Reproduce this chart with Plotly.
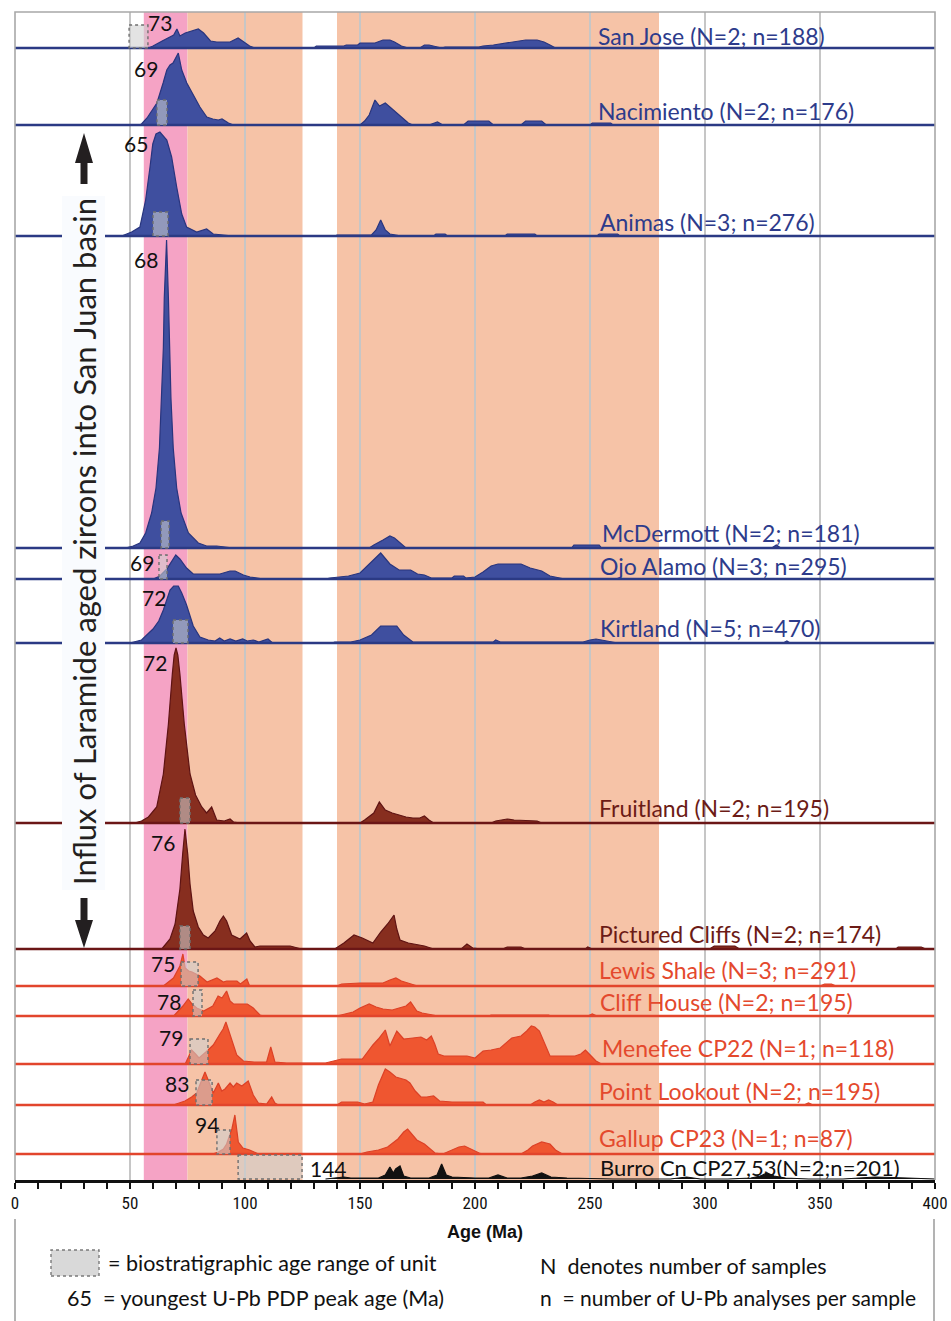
import plotly.graph_objects as go

# ---------------------------------------------------------------- data
UNIT_NAMES = ["San Jose", "Nacimiento", "Animas", "McDermott", "Ojo Alamo", "Kirtland",
              "Fruitland", "Pictured Cliffs", "Lewis Shale", "Cliff House",
              "Menefee CP22", "Point Lookout", "Gallup CP23", "Burro Cn CP27,53"]
UNIT_LABELS = ["San Jose (N=2; n=188)", "Nacimiento (N=2; n=176)", "Animas (N=3; n=276)",
               "McDermott (N=2; n=181)", "Ojo Alamo (N=3; n=295)", "Kirtland (N=5; n=470)",
               "Fruitland (N=2; n=195)", "Pictured Cliffs (N=2; n=174)",
               "Lewis Shale (N=3; n=291)", "Cliff House (N=2; n=195)",
               "Menefee CP22 (N=1; n=118)", "Point Lookout (N=2; n=195)",
               "Gallup CP23 (N=1; n=87)", "Burro Cn CP27,53(N=2;n=201)"]

# PDP curves: age (Ma) and relative probability
SAN_JOSE_AGE = [58, 60, 64, 69, 70.4, 71.7, 74, 77.5, 79.7, 82, 85, 87.7, 93.5, 97, 99, 102, 104.3,
                130, 131, 143, 144, 149, 150, 156.5, 160, 163, 165, 168, 171, 176, 178, 180, 185.5,
                187, 201.7, 203.5, 208, 214, 222, 227, 230, 232.6, 235]
SAN_JOSE_PDP = [0, 2, 7, 13, 19, 12, 15, 17, 19, 15, 7, 6, 6, 10, 7, 2, 0,
                0, 2, 2, 3, 3, 5, 5, 8, 8, 6, 2, 0, 0, 3, 3, 0,
                1, 1, 2, 3, 5, 8, 8, 6, 3, 0]

NACIMIENTO_AGE = [54, 55, 57.4, 61.7, 64.4, 66, 67.4, 68.7, 71, 72.5, 74.7, 77.5, 80.4, 83.4, 86, 88.4,
                  90, 92.8, 95, 150, 152, 154, 156.5, 158.5, 161, 164, 168, 171, 173, 180, 183.7, 186,
                  195, 197, 206, 208, 220, 222, 229, 231, 250, 251, 259, 260]
NACIMIENTO_PDP = [0, 1, 7, 22, 42, 55, 60, 62, 72, 55, 42, 30, 18, 8, 6, 5,
                  6, 2, 0, 0, 4, 10, 25, 19, 22, 16, 8, 2, 0, 0, 3, 0,
                  0, 4, 4, 0, 0, 4, 4, 0, 0, 2, 2, 0]

ANIMAS_AGE = [46.4, 50.7, 54.3, 56.8, 58.7, 59.9, 61.3, 63, 66, 68.1, 70.3, 72.5, 74.6, 79, 83.3, 86.2,
              94.9, 139, 140, 155, 157, 159, 161, 163, 168, 182, 183, 187, 188, 213, 214, 226, 227,
              253, 254, 262, 263]
ANIMAS_PDP = [0, 4, 9, 36, 69, 92, 102, 104, 96, 79, 49, 22, 9, 4, 7, 2,
              0, 0, 1, 1, 6, 16, 6, 2, 0, 0, 2, 2, 0, 0, 2, 2, 0,
              0, 2, 2, 0]

MCDERMOTT_AGE = [48, 51.4, 54.3, 56.8, 59.4, 61.3, 62.8, 63.8, 64.5, 64.9, 65.9, 66.7, 67.1, 67.8,
                 68.8, 70.3, 72.2, 75.4, 79.7, 83.3, 87.7, 94.9, 154, 156, 160, 163, 165, 168, 170,
                 242, 243, 254, 255, 329, 331, 333]
MCDERMOTT_PDP = [0, 2, 5, 15, 35, 60, 100, 150, 200, 250, 308, 250, 200, 150,
                 100, 60, 35, 15, 5, 2, 2, 0, 0, 3, 8, 12, 10, 4, 0,
                 0, 3, 3, 0, 0, 3, 0]

OJO_ALAMO_AGE = [60.1, 63, 66, 68.1, 69.9, 71.7, 74.6, 77.5, 89.1, 93.5, 95.7, 99.3, 102.2, 108,
                 135, 137, 145, 150, 159, 163, 167, 172, 175, 178, 181, 190, 191, 195, 196, 200,
                 203.5, 207, 210, 220, 224, 229, 232.6, 239]
OJO_ALAMO_PDP = [0, 3, 10, 18, 24, 20, 11, 5, 5, 8, 8, 4, 2, 0,
                 0, 1, 3, 6, 26, 15, 9, 9, 5, 4, 1, 1, 3, 3, 1, 2,
                 7, 13, 15, 15, 11, 8, 3, 0]

KIRTLAND_AGE = [50, 55, 60, 62.5, 64.5, 67.4, 69, 71, 72.5, 74.6, 77.5, 80.4, 84, 87, 89, 91, 93.5,
                96, 99, 101, 103.6, 106, 110, 112, 138, 139, 146, 150, 155, 159, 166, 169, 173, 178,
                208, 209, 211, 226, 247, 250, 252.6, 255, 260, 262, 334, 335.6, 337]
KIRTLAND_PDP = [0, 3, 14, 22, 33, 53, 57, 57, 50, 38, 17, 6, 3, 2, 5, 2, 4,
                2, 4, 2, 3, 1, 4, 0, 0, 1, 1, 3, 8, 17, 17, 8, 1, 1,
                1, 3, 1, 1, 1, 3, 4, 3, 1, 0, 0, 2, 0]

FRUITLAND_AGE = [52, 55, 58, 61.6, 64.5, 66.7, 68.4, 69.2, 70, 70.8, 71.7, 73.6, 76.1, 78.5, 81.2,
                 83.3, 85.5, 87.7, 91, 93.5, 95, 98, 150, 152, 156, 158.4, 161, 164, 167, 170, 173,
                 176, 178, 180, 182, 207, 209, 212, 214, 217, 227, 229]
FRUITLAND_PDP = [0, 2, 6, 16, 49, 99, 149, 168, 175, 168, 149, 99, 49, 28, 16,
                 10, 16, 3, 2, 4, 1, 0, 0, 3, 10, 21, 13, 10, 8, 6, 5,
                 5, 7, 3, 0, 0, 2, 3, 4, 3, 2, 0]

PICTURED_CLIFFS_AGE = [63.8, 67.4, 69.6, 71.7, 72.9, 73.9, 75.1, 76.1, 77.5, 79.7, 81.9, 84, 87, 89.1,
                       90.6, 92, 94.2, 97.8, 100.7, 102.2, 104.3, 106.5, 119.6, 124.6, 139, 143,
                       147.4, 151, 155.6, 159, 162, 164.8, 166, 167.4, 171, 175, 178, 182, 194,
                       196.5, 199, 203, 212, 214, 220, 222, 248, 249, 251, 302, 304, 313, 315, 383,
                       384, 394, 396]
PICTURED_CLIFFS_PDP = [0, 10, 25, 60, 95, 120, 95, 65, 38, 22, 14, 11, 18, 28,
                       33, 28, 14, 10, 16, 8, 2, 3, 3, 0, 0, 6,
                       14, 11, 6, 17, 25, 34, 20, 9, 6, 4, 3, 0, 0,
                       5, 1, 0, 0, 2, 2, 0, 0, 2, 0, 0, 3, 3, 0, 0,
                       2, 2, 0]

LEWIS_SHALE_AGE = [64.5, 68.9, 71.7, 73, 74, 75.5, 77, 80.4, 83.5, 86, 87.8, 90.6, 92, 96.5, 98, 100.8,
                   102, 140, 142, 150, 160, 163, 165.6, 168, 173, 175, 350, 352, 355, 357]
LEWIS_SHALE_PDP = [0, 8, 20, 32, 18, 15, 14, 10, 4, 6, 8, 4, 5, 5, 2, 7,
                   0, 0, 2, 3, 3, 6, 8, 5, 1, 0, 0, 2, 2, 0]

CLIFF_HOUSE_AGE = [69, 71.5, 73, 75.3, 77, 79, 82, 86, 88.3, 90, 92, 93.5, 95, 101, 103.6, 106.5, 108,
                   140, 143, 147, 150, 154, 157, 160, 164, 167.4, 170, 172, 174.7, 177, 182, 184,
                   206, 207, 232, 233, 249, 251, 253]
CLIFF_HOUSE_PDP = [0, 6, 10, 17, 12, 8, 5, 10, 20, 18, 25, 15, 12, 12, 8, 1, 0,
                   0, 2, 4, 8, 12, 9, 7, 6, 8, 10, 14, 5, 3, 1, 0,
                   0, 1, 1, 0, 0, 2, 0]

MENEFEE_AGE = [74, 75.5, 76.8, 78.5, 80, 83, 86.2, 89.1, 90.5, 91.7, 93, 94.2, 96.4, 99.3, 104, 109.4,
               111.2, 113, 118.1, 124, 135, 142, 151, 155.6, 158, 161, 163, 166, 169, 173, 176.5, 179,
               181, 182.5, 184, 186.5, 196.5, 200, 203.5, 207, 211, 216, 220, 222.5, 224.5, 226, 228,
               232.6, 236, 243.5, 246, 248, 250.5, 252.6, 255]
MENEFEE_PDP = [0, 8, 14, 10, 6, 12, 19, 30, 35, 42, 33, 24, 9, 3, 2, 2,
               17, 2, 1, 1, 1, 5, 5, 19, 25, 34, 18, 33, 25, 26, 27, 24,
               28, 20, 10, 8, 8, 6, 13, 14, 16, 26, 28, 33, 38, 37, 33,
               8, 8, 8, 10, 14, 8, 3, 0]

POINT_LOOKOUT_AGE = [68.8, 73.9, 76.8, 79, 81.2, 82.6, 84, 86.2, 88.4, 89.9, 91.3, 93.5, 94.9, 96.4,
                     98.6, 101.4, 103.6, 105.8, 109.4, 111.6, 113, 114.5, 140, 142, 149, 152, 155.6,
                     158, 161, 163, 165.6, 168, 170, 171.7, 174, 176.5, 179, 182, 184.6, 190, 203.5,
                     205, 224, 226, 228, 230, 232, 234, 236, 343, 345, 347]
POINT_LOOKOUT_PDP = [0, 4, 8, 12, 25, 33, 25, 12, 22, 14, 16, 22, 18, 22,
                     19, 24, 10, 2, 1, 8, 2, 0, 0, 3, 3, 1, 3,
                     20, 36, 33, 28, 26, 25, 22, 14, 8, 8, 9, 4, 3, 3,
                     0, 0, 3, 5, 3, 5, 3, 0, 0, 2, 0]

GALLUP_AGE = [86, 88.4, 90.6, 92, 94.3, 95.6, 97.1, 99.1, 102, 105.8, 150, 153, 158, 162, 166.5, 169,
              170.7, 172.5, 174.7, 178, 180, 182.6, 186, 189, 193, 195.5, 198, 201.8, 203, 220, 223,
              225, 229, 232.6, 235, 238]
GALLUP_PDP = [0, 2, 5, 10, 25, 39, 12, 6, 4, 0, 0, 2, 4, 7, 15, 22,
              25, 20, 14, 10, 6, 1, 0, 3, 7, 8, 5, 1, 0, 0, 4,
              8, 12, 10, 4, 0]

BURRO_AGE = [135, 140, 143, 146, 150, 158, 161, 163, 164.5, 165.5, 167.4, 169, 172, 180, 183.5, 185.5,
             187.5, 190, 200, 206, 210, 214, 220, 225, 229, 233, 240, 260, 285, 292, 298, 310, 320,
             324, 327, 330, 335, 345, 360, 374, 388, 400]
BURRO_PDP = [0, 1, 2, 1, 1, 1, 4, 12, 6, 10, 13, 3, 1, 1, 4, 15,
             4, 2, 1, 1, 4, 1, 1, 3, 6, 2, 1, 0, 0, 2, 0, 0, 1,
             3, 6, 3, 1, 0, 0, 2, 1, 0]

UNIT_AGES = [SAN_JOSE_AGE, NACIMIENTO_AGE, ANIMAS_AGE, MCDERMOTT_AGE, OJO_ALAMO_AGE, KIRTLAND_AGE,
             FRUITLAND_AGE, PICTURED_CLIFFS_AGE, LEWIS_SHALE_AGE, CLIFF_HOUSE_AGE, MENEFEE_AGE,
             POINT_LOOKOUT_AGE, GALLUP_AGE, BURRO_AGE]
UNIT_PDPS = [SAN_JOSE_PDP, NACIMIENTO_PDP, ANIMAS_PDP, MCDERMOTT_PDP, OJO_ALAMO_PDP, KIRTLAND_PDP,
             FRUITLAND_PDP, PICTURED_CLIFFS_PDP, LEWIS_SHALE_PDP, CLIFF_HOUSE_PDP, MENEFEE_PDP,
             POINT_LOOKOUT_PDP, GALLUP_PDP, BURRO_PDP]

# biostratigraphic age range of each unit (Ma)
BIOSTRAT_MIN = [49.6, 61.7, 60.0, 63.5, 62.6, 68.7, 71.7, 71.7, 72.2, 77.4, 76.1, 78.7, 87.8, 97.0]
BIOSTRAT_MAX = [57.8, 66.1, 66.5, 67.0, 66.1, 75.2, 76.1, 76.1, 79.6, 81.3, 83.9, 85.7, 93.5, 124.8]
# youngest U-Pb PDP peak age (Ma)
YOUNGEST_PEAK = [73, 69, 65, 68, 69, 72, 72, 76, 75, 78, 79, 83, 94, 144]

# shaded age windows (Ma)
LARAMIDE_BAND = (56, 75)
SALMON_BANDS = [(75, 125), (140, 280)]

X_TICKS = [0, 50, 100, 150, 200, 250, 300, 350, 400]

# ---------------------------------------------------------------- layout config (pixels)
W, H = 951, 1321
PL, PR, PT, PB = 15, 935, 12, 1180

BASELINE_PX = [48, 125, 236, 548, 579, 643, 823, 949, 986, 1016, 1064, 1105, 1154, 1179]
LABEL_PX = [(596, 36), (596, 111), (598, 222), (600, 533), (598, 566), (598, 628), (597, 808),
            (597, 934), (597, 970), (598, 1002), (600, 1048), (597, 1091), (597, 1138), (598, 1167)]
PEAK_LABEL_PX = [(160, 22), (146, 68), (136, 143), (146, 259), (142, 562), (154, 597), (155, 662),
                 (163, 842), (163, 963), (169, 1001), (171, 1037), (177, 1083), (207, 1124), (328, 1168)]
LABEL_SIZE = [23] * 13 + [22]
BOX_H = [23, 25, 24, 27, 24, 23, 25, 23, 24, 26, 25, 25, 24, 24]
GROUP = ["blue"] * 6 + ["maroon"] * 2 + ["orange"] * 5 + ["black"]

STYLE = {
    "blue":   dict(fill="#3f4f9f", line="#28357e", base="#2b3a84", text="#2d3b8b"),
    "maroon": dict(fill="#872e1f", line="#5e1313", base="#6b1616", text="#6c1b16"),
    "orange": dict(fill="#ef5630", line="#dc4127", base="#e2452c", text="#e4492d"),
    "black":  dict(fill="#111111", line="#111111", base="#111111", text="#111111"),
}

LABEL_FONT = "Lato, 'Open Sans', sans-serif"
NARROW_FONT = "'Liberation Sans Narrow', 'Arial Narrow', 'Roboto Condensed', Roboto, sans-serif"


def px_x(px):
    return (px - PL) / (PR - PL)


def px_y(py):
    return (PB - py) / (PB - PT)


fig = go.Figure()

for i in range(len(UNIT_NAMES)):
    ages, pdp = UNIT_AGES[i], UNIT_PDPS[i]
    assert len(ages) == len(pdp), UNIT_NAMES[i]
    base = BASELINE_PX[i]
    st = STYLE[GROUP[i]]
    fig.add_trace(go.Scatter(
        x=ages, y=[base - v for v in pdp], mode="lines", fill="toself",
        fillcolor=st["fill"], line=dict(color=st["line"], width=1.2),
        hoverinfo="skip", showlegend=False, name=UNIT_NAMES[i]))
    if GROUP[i] != "black":
        fig.add_trace(go.Scatter(
            x=[0, 400], y=[base, base], mode="lines",
            line=dict(color=st["base"], width=2.4), hoverinfo="skip", showlegend=False))

shapes = []
# shaded windows
shapes.append(dict(type="rect", xref="x", yref="y", x0=LARAMIDE_BAND[0], x1=LARAMIDE_BAND[1],
                   y0=PT, y1=PB, fillcolor="#f5a3c5", line=dict(width=0), layer="below"))
for a, b in SALMON_BANDS:
    shapes.append(dict(type="rect", xref="x", yref="y", x0=a, x1=b, y0=PT, y1=PB,
                       fillcolor="#f6c3a7", line=dict(width=0), layer="below"))
# plot frame (top / left / right)
shapes.append(dict(type="path", xref="paper", yref="paper",
                   path="M 0 0 L 0 1 L 1 1 L 1 0", line=dict(color="#a8a8a8", width=1.6),
                   layer="above"))
# biostratigraphic boxes
for i in range(len(UNIT_NAMES)):
    base = BASELINE_PX[i]
    shapes.append(dict(type="rect", xref="x", yref="y", x0=BIOSTRAT_MIN[i], x1=BIOSTRAT_MAX[i],
                       y0=base - BOX_H[i], y1=base, fillcolor="rgba(206,206,206,0.58)",
                       line=dict(color="#6f6f6f", width=1.4, dash="dot"), layer="above"))
# white box behind the rotated caption
shapes.append(dict(type="rect", xref="paper", yref="paper", x0=px_x(62), x1=px_x(105),
                   y0=px_y(890), y1=px_y(196), fillcolor="#f9fbfe", line=dict(width=0),
                   layer="above"))


def arrow_path(tip_y, head_base_y, shaft_end_y):
    cx = 84
    pts = [(cx, tip_y), (cx - 9, head_base_y), (cx - 3.5, head_base_y), (cx - 3.5, shaft_end_y),
           (cx + 3.5, shaft_end_y), (cx + 3.5, head_base_y), (cx + 9, head_base_y)]
    return "M " + " L ".join(f"{px_x(x):.5f} {px_y(y):.5f}" for x, y in pts) + " Z"


shapes.append(dict(type="path", xref="paper", yref="paper", path=arrow_path(133, 163, 184),
                   fillcolor="#231f20", line=dict(width=0), layer="above"))
shapes.append(dict(type="path", xref="paper", yref="paper", path=arrow_path(948, 920, 898),
                   fillcolor="#231f20", line=dict(width=0), layer="above"))
# legend frame lines
for xpx in (15, 934):
    shapes.append(dict(type="line", xref="paper", yref="paper", x0=px_x(xpx), x1=px_x(xpx),
                       y0=px_y(1219), y1=px_y(1321), line=dict(color="#9a9a9a", width=1.5)))
# legend box symbol
shapes.append(dict(type="rect", xref="paper", yref="paper", x0=px_x(51), x1=px_x(99),
                   y0=px_y(1276), y1=px_y(1250), fillcolor="#d9d9d9",
                   line=dict(color="#7a7a7a", width=1.4, dash="dot")))

ann = []
for i in range(len(UNIT_NAMES)):
    st = STYLE[GROUP[i]]
    lx, ly = LABEL_PX[i]
    ann.append(dict(text=UNIT_LABELS[i], xref="paper", yref="y", x=px_x(lx), y=ly,
                    xanchor="left", yanchor="middle", showarrow=False,
                    font=dict(family=LABEL_FONT, size=LABEL_SIZE[i], color=st["text"])))
    px_, py_ = PEAK_LABEL_PX[i]
    ann.append(dict(text=str(YOUNGEST_PEAK[i]), xref="paper", yref="y", x=px_x(px_), y=py_,
                    xanchor="center", yanchor="middle", showarrow=False,
                    font=dict(family=LABEL_FONT, size=21, color="#111111")))

ann.append(dict(text="Influx of Laramide aged zircons into San Juan basin", xref="paper",
                yref="paper", x=px_x(84), y=px_y(542), textangle=-90, showarrow=False,
                xanchor="center", yanchor="middle",
                font=dict(family=LABEL_FONT, size=31, color="#231f20")))
ann.append(dict(text="<b>Age (Ma)</b>", xref="paper", yref="paper", x=px_x(485), y=px_y(1232),
                showarrow=False, xanchor="center", yanchor="middle",
                font=dict(family="'Liberation Sans', Arial, sans-serif", size=18, color="#111111")))
LEG_FONT = dict(family=LABEL_FONT, size=21.5, color="#111111")
ann.append(dict(text="= biostratigraphic age range of unit", xref="paper", yref="paper",
                x=px_x(106), y=px_y(1263), xanchor="left", yanchor="middle", showarrow=False,
                font=LEG_FONT))
ann.append(dict(text="65  = youngest U-Pb PDP peak age (Ma)", xref="paper", yref="paper",
                x=px_x(65), y=px_y(1298), xanchor="left", yanchor="middle", showarrow=False,
                font=LEG_FONT))
ann.append(dict(text="N  denotes number of samples", xref="paper", yref="paper",
                x=px_x(538), y=px_y(1266), xanchor="left", yanchor="middle", showarrow=False,
                font=LEG_FONT))
ann.append(dict(text="n  = number of U-Pb analyses per sample", xref="paper", yref="paper",
                x=px_x(538), y=px_y(1297), xanchor="left", yanchor="middle", showarrow=False,
                font=dict(family=LABEL_FONT, size=21, color="#111111")))

fig.update_layout(
    width=W, height=H, autosize=False,
    margin=dict(l=PL, r=W - PR, t=PT, b=H - PB, pad=0, autoexpand=False),
    paper_bgcolor="white", plot_bgcolor="white",
    showlegend=False,
    shapes=shapes, annotations=ann,
    xaxis=dict(range=[0, 400], tickvals=X_TICKS, ticktext=[str(t) for t in X_TICKS],
               automargin=False,
               showgrid=True, gridcolor="#c6c6c6", gridwidth=1.5, zeroline=False,
               showline=True, linecolor="#111111", linewidth=3,
               ticks="outside", ticklen=6, tickwidth=1.5, tickcolor="#111111",
               minor=dict(dtick=10, ticks="outside", ticklen=6, tickwidth=1.5,
                          tickcolor="#111111", showgrid=False),
               tickfont=dict(family=NARROW_FONT, size=17, color="#111111")),
    yaxis=dict(range=[PB, PT], visible=False, showgrid=False, zeroline=False, automargin=False),
)

fig.write_html("out.html")
